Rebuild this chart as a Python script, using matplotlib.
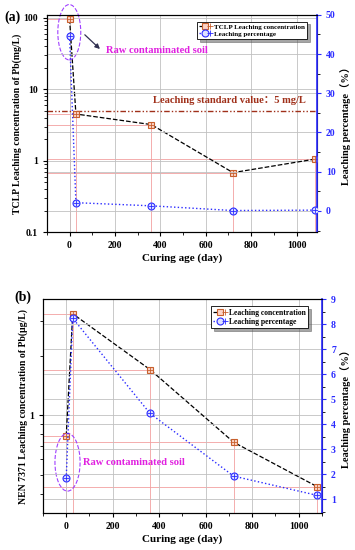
import matplotlib
matplotlib.use("Agg")
import matplotlib.pyplot as plt
from matplotlib.patches import Ellipse
from matplotlib.lines import Line2D
from matplotlib.legend_handler import HandlerTuple
from matplotlib.ticker import MultipleLocator, LogLocator, NullFormatter

plt.rcParams['font.family'] = ['Liberation Serif', 'Noto Sans CJK SC', 'DejaVu Sans']
plt.rcParams['font.weight'] = 'bold'
plt.rcParams['axes.labelweight'] = 'bold'

# data
days = [0, 28, 360, 720, 1080]
tclp_conc = [96, 4.5, 3.2, 0.68, 1.05]      # mg/L
tclp_pct = [44.6, 2.1, 1.3, 0.1, 0.2]        # %
nen_conc = [0.785, 3.25, 1.70, 0.73, 0.435]  # ug/L
nen_pct = [1.84, 8.24, 4.44, 1.93, 1.16]     # %
standard_value = 5

conc_c = '#c8602e'
pct_c = '#2b2bff'
drop_c = '#f2a0a0'
mag = '#e020e0'

fig = plt.figure(figsize=(3.55, 5.5), dpi=100)
ax1 = fig.add_axes([0.132, 0.578, 0.761, 0.395])
ax2 = fig.add_axes([0.121, 0.067, 0.786, 0.389])


def draw_panel(ax, conc, pct, ylabel, ylim, rlim, rmajor, rminor):
    ax.set_yscale('log')
    ax.set_xlim(-100, 1090)
    ax.set_ylim(*ylim)
    ax.grid(True, which='major', color='#c0c0c0', lw=0.6)
    # drop lines
    for x, y in zip(days, conc):
        ax.plot([x, x], [ylim[0], y], color=drop_c, lw=0.6, zorder=1)
        ax.plot([-100, x], [y, y], color=drop_c, lw=0.6, zorder=1)
    ax.plot(days, conc, ls='--', color='black', lw=0.9, zorder=3)
    ax.plot(days, conc, ls='none', marker='s', ms=5, mfc='#fbd3c6', mec=conc_c, mew=0.8, zorder=4)
    ax.plot(days, conc, ls='none', marker='+', ms=5, mec=conc_c, mew=0.6, zorder=5)
    ax.set_xlabel('Curing age (day)', fontsize=8, labelpad=2)
    ax.set_ylabel(ylabel, fontsize=7, labelpad=1)
    ax.xaxis.set_major_locator(MultipleLocator(200))
    ax.xaxis.set_minor_locator(MultipleLocator(100))
    ax.tick_params(labelsize=7, length=3, width=0.8)
    ax.tick_params(which='minor', length=2)

    axr = ax.twinx()
    axr.set_ylim(*rlim)
    axr.plot(days, pct, ls=':', color=pct_c, lw=1.0, zorder=3)
    axr.plot(days, pct, ls='none', marker='o', ms=5, mfc='#dde0ff', mec=pct_c, mew=0.8, zorder=4)
    axr.plot(days, pct, ls='none', marker='+', ms=5, mec=pct_c, mew=0.6, zorder=5)
    axr.yaxis.set_major_locator(MultipleLocator(rmajor))
    axr.yaxis.set_minor_locator(MultipleLocator(rminor))
    axr.grid(True, which='major', color='#c0c0c0', lw=0.6)
    axr.spines['right'].set_color(pct_c)
    axr.spines['right'].set_linewidth(1.2)
    axr.tick_params(axis='y', colors=pct_c, labelsize=7, length=3, width=0.8)
    axr.tick_params(axis='y', which='minor', length=2)
    axr.set_ylabel('Leaching percentage（%）', fontsize=7.5, labelpad=3)
    for t in axr.get_yticklabels():
        t.set_fontweight('bold')

    h1 = (Line2D([], [], ls='--', color='black', lw=0.9),
          Line2D([], [], ls='none', marker='s', ms=5, mfc='#fbd3c6', mec=conc_c, mew=0.8),
          Line2D([], [], ls='none', marker='+', ms=5, mec=conc_c, mew=0.6))
    h2 = (Line2D([], [], ls=':', color=pct_c, lw=1.0),
          Line2D([], [], ls='none', marker='o', ms=5, mfc='#dde0ff', mec=pct_c, mew=0.8),
          Line2D([], [], ls='none', marker='+', ms=5, mec=pct_c, mew=0.6))
    return axr, [h1, h2]


# panel (a)
axr1, hs = draw_panel(ax1, tclp_conc, tclp_pct,
                      'TCLP Leaching concentration of Pb(mg/L)',
                      (0.1, 110), (-5.4, 50), 10, 5)
ax1.yaxis.set_major_locator(LogLocator(base=10))
ax1.yaxis.set_major_formatter(matplotlib.ticker.FuncFormatter(lambda v, p: '%g' % v))
ax1.axhline(standard_value, color='#a0301a', ls=(0, (4, 1.5, 1, 1.5, 1, 1.5)), lw=1.0, zorder=2)
ax1.text(0.393, 0.607, 'Leaching standard value：5 mg/L', transform=ax1.transAxes,
         color='#a0301a', fontsize=7.6, fontweight='bold', va='center', ha='left')
ax1.add_patch(Ellipse((0.083, 0.92), 0.085, 0.255, transform=ax1.transAxes, fill=False,
                      ec='#a040ff', ls='--', lw=0.8, clip_on=False, zorder=6))
ax1.annotate('', xy=(0.204, 0.834), xytext=(0.133, 0.917), xycoords='axes fraction',
             arrowprops=dict(arrowstyle='-|>', color='#303050', lw=0.9, mutation_scale=7))
ax1.text(0.219, 0.837, 'Raw contaminated soil', transform=ax1.transAxes, color=mag,
         fontsize=7.6, fontweight='bold', va='center', ha='left')
leg = axr1.legend(hs, ['TCLP Leaching concentration', 'Leaching percentage'],
                  handler_map={tuple: HandlerTuple(ndivide=None, pad=0)},
                  loc='upper right', bbox_to_anchor=(0.975, 0.985), fontsize=5,
                  frameon=True, fancybox=False, shadow=True, edgecolor='black',
                  handlelength=1.8, borderpad=0.3, labelspacing=0.2, handletextpad=0.3)
leg.get_frame().set_linewidth(0.6)
fig.text(0.012, 0.968, '(a)', fontsize=10, fontweight='bold', va='center')

# panel (b)
axr2, hs = draw_panel(ax2, nen_conc, nen_pct,
                      'NEN 7371 Leaching concentration of Pb(μg/L)',
                      (0.32, 3.85), (0.45, 9), 1, 0.5)
ax2.set_xlim(-100, 1100)
axr2.set_xlim(-100, 1100)
ax2.yaxis.set_major_locator(LogLocator(base=10))
ax2.yaxis.set_major_formatter(matplotlib.ticker.FuncFormatter(lambda v, p: '%g' % v))
ax2.yaxis.set_minor_formatter(NullFormatter())
ax2.add_patch(Ellipse((0.088, 0.238), 0.09, 0.27, transform=ax2.transAxes, fill=False,
                      ec='#a040ff', ls='--', lw=0.8, zorder=6))
ax2.text(0.143, 0.238, 'Raw contaminated soil', transform=ax2.transAxes, color=mag,
         fontsize=7.6, fontweight='bold', va='center', ha='left')
leg = axr2.legend(hs, ['Leaching concentration', 'Leaching percentage'],
                  handler_map={tuple: HandlerTuple(ndivide=None, pad=0)},
                  loc='upper right', bbox_to_anchor=(0.965, 0.985), fontsize=5.5,
                  frameon=True, fancybox=False, shadow=True, edgecolor='black',
                  handlelength=1.8, borderpad=0.3, labelspacing=0.2, handletextpad=0.3)
leg.get_frame().set_linewidth(0.6)
fig.text(0.04, 0.46, '(b)', fontsize=10, fontweight='bold', va='center')

fig.savefig('out.png', dpi=100)
